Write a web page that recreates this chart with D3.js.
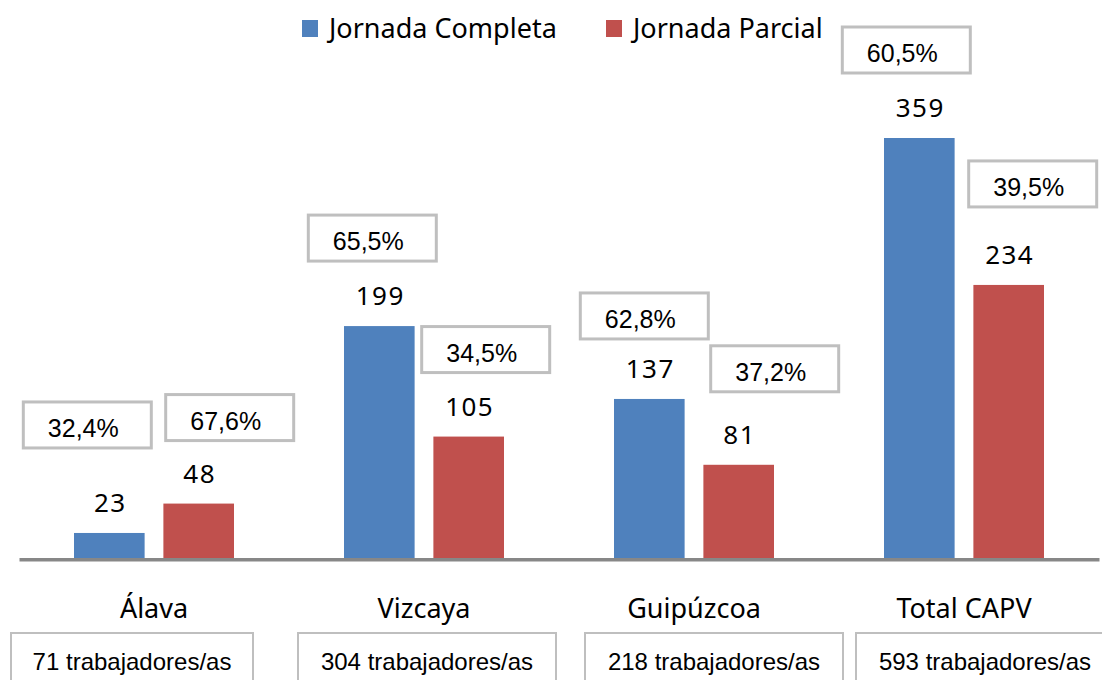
<!DOCTYPE html>
<html>
<head>
<meta charset="utf-8">
<script src="https://cdn.jsdelivr.net/npm/d3@7"></script>
<style>
body { margin: 0; background: #fff; }
</style>
</head>
<body>
<div id="chart"></div>
<script>
var categories = ["Álava", "Vizcaya", "Guipúzcoa", "Total CAPV"];
var seriesNames = ["Jornada Completa", "Jornada Parcial"];
var completa = [23, 199, 137, 359];
var parcial = [48, 105, 81, 234];

var colors = ["#4F81BD", "#C0504D"];

// the % boxes were placed by hand in the original: [dx, dy] from bar centre / bar top
var pctNudge = [
  [[-22, -131], [31, -109]],
  [[-7, -111], [17, -110]],
  [[-5, -106], [36, -119]],
  [[-13, -111], [24, -124]]
];
// bottom "trabajadores" boxes: [dx from band centre, width]
var totalBox = [[-22, 242], [3, 258], [20, 258], [21, 258]];

var width = 1102, height = 680;
var pct = d3.format(".1f");

var svg = d3.select("#chart")
  .append("svg")
  .attr("width", width)
  .attr("height", height);

var x = d3.scaleBand()
  .domain(categories)
  .range([19, 1099]);

var xs = d3.scaleBand()
  .domain(seriesNames)
  .range([-80, 80])
  .paddingInner(0.21);

var y = d3.scaleLinear()
  .domain([0, d3.max(completa)])
  .range([560, 138]);

var rows = categories.map((c, i) => {
  var tot = completa[i] + parcial[i];
  return seriesNames.map((s, j) => {
    var v = j == 0 ? completa[i] : parcial[i];
    return { cat: c, s: s, v: v, share: v / tot * 100, i: i, j: j };
  });
});
var flat = d3.merge(rows);

function barCenter(d) {
  return x(d.cat) + x.bandwidth() / 2 + xs(d.s) + xs.bandwidth() / 2;
}

// bars
svg.append("g")
  .selectAll("rect")
  .data(flat)
  .enter()
  .append("rect")
    .attr("x", d => x(d.cat) + x.bandwidth() / 2 + xs(d.s))
    .attr("width", xs.bandwidth())
    .attr("y", d => y(d.v))
    .attr("height", d => y(0) - y(d.v))
    .attr("fill", d => colors[d.j]);

// axis with category labels
var xAxis = g => g
  .attr("transform", "translate(0,559.3)")
  .call(d3.axisBottom(x).tickSize(0).tickSizeOuter(0).tickPadding(40))
  .call(g => g.select(".domain").attr("stroke", "#878787").attr("stroke-width", 3.5))
  .call(g => g.selectAll("text")
    .attr("fill", "#000")
    .style("font-family", "'Noto Sans', sans-serif")
    .style("font-size", "27px"));
svg.append("g").call(xAxis);

// value labels
svg.append("g")
  .selectAll("text")
  .data(flat)
  .enter()
  .append("text")
    .attr("x", d => barCenter(d) + 1)
    .attr("y", d => y(d.v) - 21)
    .attr("text-anchor", "middle")
    .style("font-family", "'Noto Sans', sans-serif")
    .style("font-size", "26px")
    .style("letter-spacing", "1.5px")
    .text(d => d.v);

// percentage boxes
var pg = svg.append("g")
  .selectAll("g")
  .data(flat)
  .enter()
  .append("g")
    .attr("transform", d => {
      var n = pctNudge[d.i][d.j];
      return "translate(" + (barCenter(d) + n[0]) + "," + (y(d.v) + n[1]) + ")";
    });
pg.append("rect")
  .attr("x", -64)
  .attr("y", 0)
  .attr("width", 128)
  .attr("height", 46)
  .attr("fill", "#fff")
  .attr("stroke", "#BFBFBF")
  .attr("stroke-width", 3);
pg.append("text")
  .attr("x", -4)
  .attr("y", 35)
  .attr("text-anchor", "middle")
  .style("font-family", "'Liberation Sans', Arial, sans-serif")
  .style("font-size", "25px")
  .text(d => pct(d.share).replace(".", ",") + "%");

// totals under each category
var tg = svg.append("g")
  .selectAll("g")
  .data(categories)
  .enter()
  .append("g")
    .attr("transform", (c, i) => "translate(" + (x(c) + x.bandwidth() / 2 + totalBox[i][0]) + ",0)");
tg.append("rect")
  .attr("x", (c, i) => -totalBox[i][1] / 2)
  .attr("y", 633)
  .attr("width", (c, i) => totalBox[i][1])
  .attr("height", 70)
  .attr("fill", "#fff")
  .attr("stroke", "#BFBFBF")
  .attr("stroke-width", 2);
tg.append("text")
  .attr("x", 0)
  .attr("y", 670)
  .attr("text-anchor", "middle")
  .style("font-family", "'Liberation Sans', Arial, sans-serif")
  .style("font-size", "24px")
  .text((c, i) => (completa[i] + parcial[i]) + " trabajadores/as");

// legend
var legendX = [302, 606];
var lg = svg.append("g")
  .selectAll("g")
  .data(seriesNames)
  .enter()
  .append("g")
    .attr("transform", (s, j) => "translate(" + legendX[j] + ",0)");
lg.append("rect")
  .attr("x", 0)
  .attr("y", 20)
  .attr("width", 16)
  .attr("height", 17)
  .attr("fill", (s, j) => colors[j]);
lg.append("text")
  .attr("x", 27)
  .attr("y", 38)
  .style("font-family", "'Noto Sans', sans-serif")
  .style("font-size", "27px")
  .text(s => s);
</script>
</body>
</html>
